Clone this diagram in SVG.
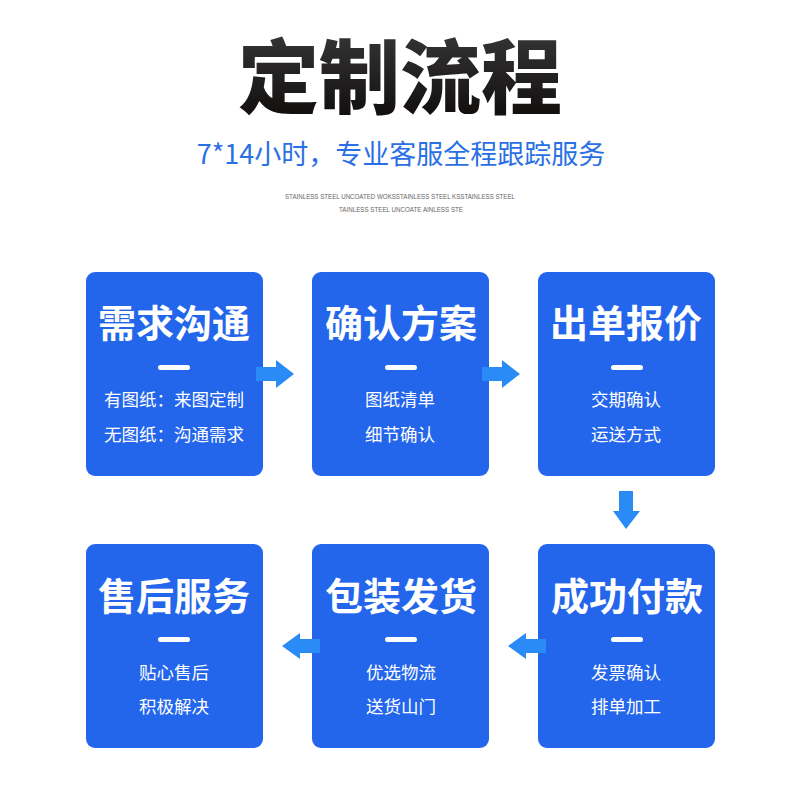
<svg xmlns="http://www.w3.org/2000/svg" width="800" height="800" viewBox="0 0 800 800">
<defs>
<linearGradient id="tg" x1="0" y1="0" x2="0" y2="1"><stop offset="0" stop-color="#3e3e3e"/><stop offset="1" stop-color="#0c0808"/></linearGradient>
</defs>
<style>
text{font-family:"Noto Sans CJK SC","Noto Sans",sans-serif;text-anchor:middle}
.card{fill:#2366ec}
.h{font-size:38px;font-weight:700;fill:#fff}
.s{font-size:17.5px;font-weight:400;fill:#fff}
.bar{fill:#fff}
.arrow{fill:#2a8af6}
.tiny{font-family:"Liberation Sans",sans-serif;font-size:6.6px;fill:#666}
</style>
<rect width="800" height="800" fill="#fff"/>
<g id="header">
<text x="400" y="107" font-size="81" font-weight="900" fill="url(#tg)">定制流程</text>
<text x="401" y="164" font-size="27" font-weight="400" fill="#2a70e4">7*14小时，专业客服全程跟踪服务</text>
<text class="tiny" x="400" y="199" textLength="230" lengthAdjust="spacingAndGlyphs">STAINLESS STEEL UNCOATED WOKSSTAINLESS STEEL KSSTAINLESS STEEL</text>
<text class="tiny" x="401" y="212" textLength="124" lengthAdjust="spacingAndGlyphs">TAINLESS STEEL UNCOATE AINLESS STE</text>
</g>
<g id="node1"><rect class="card" x="86" y="272" width="177" height="204" rx="9"/><text class="h" x="174" y="337">需求沟通</text><rect class="bar" x="158" y="365" width="32" height="5" rx="2.5"/><text class="s" x="174" y="406">有图纸：来图定制</text><text class="s" x="174" y="441">无图纸：沟通需求</text></g>
<g id="node2"><rect class="card" x="312" y="272" width="177" height="204" rx="9"/><text class="h" x="401" y="337">确认方案</text><rect class="bar" x="385" y="365" width="32" height="5" rx="2.5"/><text class="s" x="400" y="406">图纸清单</text><text class="s" x="400" y="441">细节确认</text></g>
<g id="node3"><rect class="card" x="538" y="272" width="177" height="204" rx="9"/><text class="h" x="626" y="337">出单报价</text><rect class="bar" x="611" y="365" width="32" height="5" rx="2.5"/><text class="s" x="626" y="406">交期确认</text><text class="s" x="626" y="441">运送方式</text></g>
<g id="node4"><rect class="card" x="538" y="544" width="177" height="204" rx="9"/><text class="h" x="627" y="610">成功付款</text><rect class="bar" x="611" y="637" width="32" height="5" rx="2.5"/><text class="s" x="626" y="679">发票确认</text><text class="s" x="626" y="713">排单加工</text></g>
<g id="node5"><rect class="card" x="312" y="544" width="177" height="204" rx="9"/><text class="h" x="401" y="610">包装发货</text><rect class="bar" x="385" y="637" width="32" height="5" rx="2.5"/><text class="s" x="401" y="679">优选物流</text><text class="s" x="401" y="713">送货山门</text></g>
<g id="node6"><rect class="card" x="86" y="544" width="177" height="204" rx="9"/><text class="h" x="174" y="610">售后服务</text><rect class="bar" x="158" y="637" width="32" height="5" rx="2.5"/><text class="s" x="174" y="679">贴心售后</text><text class="s" x="174" y="713">积极解决</text></g>
<g id="connectors">
<path class="arrow" d="M256 367H276V360L294 374L276 388V381H256Z"/>
<path class="arrow" d="M482 367H502V360L520 374L502 388V381H482Z"/>
<path class="arrow" d="M619 491H633V511H640L626 529L613 511H619Z"/>
<path class="arrow" d="M546 639H526V633L508 646L526 659V653H546Z"/>
<path class="arrow" d="M320 639H300V633L282 646L300 659V653H320Z"/>
</g>
</svg>
